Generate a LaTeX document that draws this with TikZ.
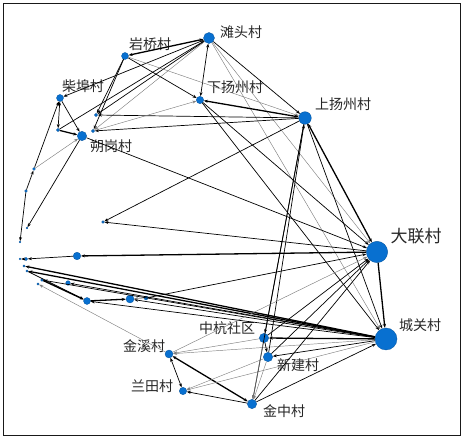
\documentclass[tikz,border=0pt]{standalone}
\usepackage{fontspec}
\newfontfamily\cjk{Noto Sans CJK SC}
\usetikzlibrary{arrows.meta}
\definecolor{nodeblue}{RGB}{8,112,208}
\tikzset{
  vn/.style={circle, fill=nodeblue, draw=nodeblue!75!black, line width=0.3pt, inner sep=0pt},
  lab/.style={font=\cjk\fontsize{14}{14}\selectfont, text=black!85, inner sep=0pt},
  biglab/.style={font=\cjk\fontsize{17}{17}\selectfont, text=black!85, inner sep=0pt},
  tip/.tip={Stealth[length=4pt,width=3pt]},
  e/.style={-tip, line width=0.7pt, black},
  ek/.style={e, line width=1.3pt},
  eg/.style={e, line width=0.45pt, black!50},
  eb/.style={tip-tip, line width=0.7pt, black},
  ebk/.style={eb, line width=1.3pt},
  frame/.style={draw=black!90, line width=0.9pt},
}
\newcommand\vnode[4]{\node[vn, minimum size=#4pt] (#1) at (#2,#3) {};}
\begin{document}
\begin{tikzpicture}[x=1pt,y=-1pt]
\useasboundingbox (0,0) rectangle (464,438);
\draw[frame] (3,3) rectangle (460,435);
% named nodes
\vnode{tt}{209}{38}{11}
\vnode{yq}{125}{56}{7}
\vnode{cb}{60}{98}{7}
\vnode{sg}{82}{136}{9.4}
\vnode{xy}{200}{100}{7.4}
\vnode{sy}{305}{118}{12.6}
\vnode{dl}{377}{252}{21.4}
\vnode{cg}{386}{339}{22}
\vnode{zh}{264}{338}{9.4}
\vnode{xj}{268}{357}{9.4}
\vnode{jz}{252}{404}{9.4}
\vnode{jx}{169}{354}{8}
\vnode{lt}{183}{391}{7.4}
% small nodes
\vnode{a1}{96}{115}{3.4}
\vnode{a2}{93}{131}{3.4}
\vnode{a3}{58}{130}{3.4}
\vnode{a4}{34}{169}{3}
\vnode{a5}{26}{191}{2.6}
\vnode{a6}{20}{242}{1.6}
\vnode{a7}{27}{228}{1.6}
\vnode{a8}{103}{222}{2.6}
\vnode{m1}{77}{256}{7.6}
\vnode{b0}{20}{259}{2}
\vnode{b1}{26}{259}{3.4}
\vnode{b2}{24}{266}{2.4}
\vnode{b3}{27}{271}{2.4}
\vnode{b4}{42}{280}{2.6}
\vnode{b5}{38}{284}{2.4}
\vnode{b6}{68}{283}{4.6}
\vnode{m2}{87}{301}{7}
\vnode{m3}{130}{299}{8}
\vnode{b7}{146}{298}{4}
% labels
\node[lab] (Ltt) at (241,32) {滩头村};
\node[lab] (Lyq) at (150,44) {岩桥村};
\node[lab] (Lcb) at (83,86) {柴埠村};
\node[lab] (Lsg) at (111,146) {朔岗村};
\node[lab] (Lxy) at (235,87) {下扬州村};
\node[lab] (Lsy) at (343,104) {上扬州村};
\node[biglab] (Ldl) at (416,236) {大联村};
\node[lab] (Lcg) at (420,325) {城关村};
\node[lab] (Lzh) at (227,328) {中杭社区};
\node[lab] (Lxj) at (298,365) {新建村};
\node[lab] (Ljz) at (284,411) {金中村};
\node[lab] (Ljx) at (144,346) {金溪村};
\node[lab] (Llt) at (152,386) {兰田村};
% edges: top cluster
\draw[ebk] (yq) -- (tt);
\draw[e] (tt) -- (cb);
\draw[e] (a3) -- (tt);
\draw[e] (tt) -- (a1);
\draw[eg] (tt) -- (a2);
\draw[eb] (tt) -- (xy);
\draw[e] (yq) -- (xy);
\draw[e] (yq) -- (a1);
\draw[e] (yq) -- (a2);
\draw[eg] (yq) -- (sy);
\draw[e] (tt) -- (sy);
\draw[eg] (tt) -- (dl);
\draw[eg] (tt) -- (cg);
\draw[ebk] (xy) -- (sy);
\draw[e] (sy) -- (a1);
\draw[e] (sy) -- (a2);
\draw[eg] (a2) -- (xy);
\draw[e] (cb) -- (sg);
\draw[eb] (cb) -- (a3);
\draw[ek] (a3) -- (sg);
\draw[e] (a4) -- (cb);
\draw[e] (a5) -- (a4);
\draw[eg] (a4) -- (sg);
\draw[e] (a5) -- (a6);
\draw[e] (sg) -- (a7);
\draw[e] (sg) -- (dl);
\draw[e] (sy) -- (a8);
\draw[e] (dl) -- (a8);
% middle and left cluster
\draw[ek] (dl) -- (m1);
\draw[e] (m1) -- (b1);
\draw[e] (b1) -- (b0);
\draw[ek] (cg) -- (b2);
\draw[ek] (cg) -- (b3);
\draw[e] (cg) -- (b4);
\draw[e] (cg) -- (b6);
\draw[e] (cg) -- (m2);
\draw[e] (cg) -- (m3);
\draw[ek] (b4) -- (m2);
\draw[ek] (m2) -- (m3);
\draw[e] (b3) -- (m2);
\draw[e] (b7) -- (dl);
\draw[eg] (b7) -- (m3);
\draw[eg] (jx) -- (b5);
% lower cluster
\draw[eb] (jx) -- (lt);
\draw[ebk] (jz) -- (jx);
\draw[e] (jz) -- (lt);
\draw[eg] (zh) -- (jx);
\draw[eg] (cg) -- (jx);
\draw[eg] (cg) -- (lt);
\draw[eg] (xj) -- (lt);
\draw[e] (xj) -- (dl);
\draw[e] (zh) -- (dl);
\draw[e] (jz) -- (dl);
\draw[e] (jz) -- (cg);
\draw[ek] (cg) -- (zh);
\draw[e] (cg) -- (xj);
\draw[e] (sy) -- (jz);
\draw[e] (sy) -- (zh);
\draw[e] (xj) -- (sy);
\draw[ebk] (sy) -- (dl);
\draw[e] (sy) -- (cg);
\draw[ek] (dl) -- (cg);
\draw[e] (xy) -- (cg);
\draw[e] (xy) -- (dl);
\draw[e] (zh) -- (xj);
\draw[eg] (xj) -- (jz);
\draw[eg] (zh) -- (jz);
\draw[eg] (jx) -- (dl);
\end{tikzpicture}
\end{document}
